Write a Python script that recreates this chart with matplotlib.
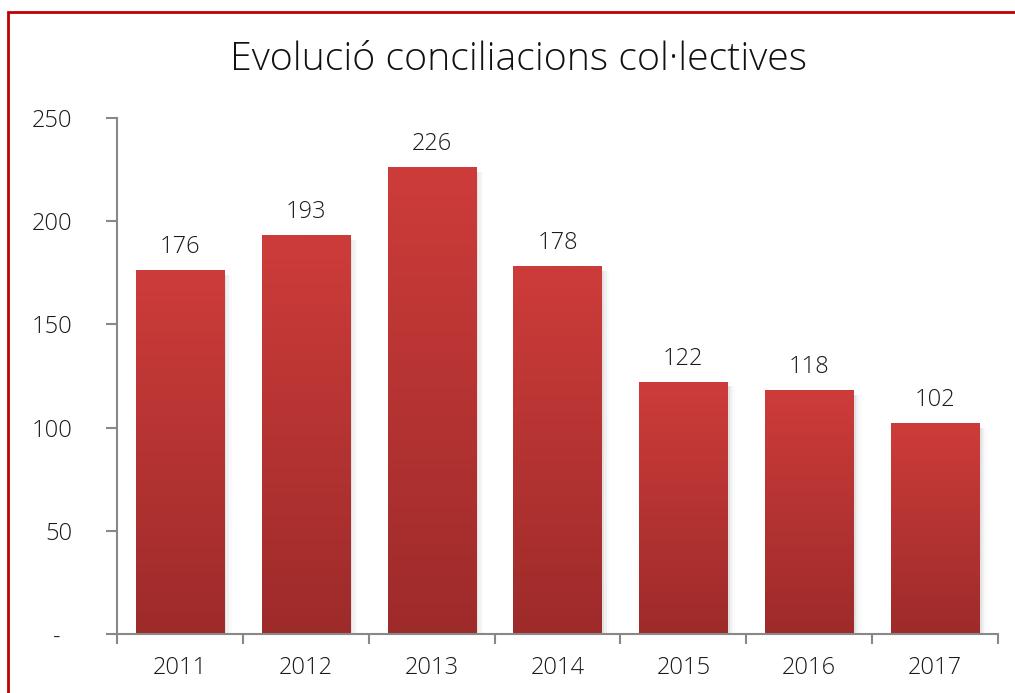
import matplotlib
matplotlib.use("Agg")
import matplotlib.pyplot as plt
import numpy as np
from matplotlib.colors import LinearSegmentedColormap
from matplotlib.patches import Rectangle

years = ["2011", "2012", "2013", "2014", "2015", "2016", "2017"]
values = [176, 193, 226, 178, 122, 118, 102]
yticks = [0, 50, 100, 150, 200, 250]
ytick_labels = ["-  ", "50", "100", "150", "200", "250"]
title = "Evolució conciliacions col·lectives"

plt.rcParams['font.family'] = ['Open Sans', 'DejaVu Sans']
FW = 300
TC = "#1a1a1a"
FS = 17

fig = plt.figure(figsize=(10.15, 6.93), dpi=100)
ax = fig.add_axes([117/1015, 1-634/693, (998-117)/1015, (634-118)/693])

cmap = LinearSegmentedColormap.from_list("g", ["#9d2b2a", "#cd3c3a"])
grad = np.linspace(0, 1, 256).reshape(-1, 1)
width = 0.7
x = np.arange(len(years))
for xi, v in zip(x, values):
    # soft shadow
    for k, a in enumerate([0.06, 0.04, 0.02]):
        ax.add_patch(Rectangle((xi - width/2 + 0.01*(k+1), -1), width + 0.01*(k+1), v - 1,
                               facecolor="black", alpha=a, lw=0, zorder=1))
    ax.imshow(grad, extent=(xi - width/2, xi + width/2, 0, v), origin="lower",
              cmap=cmap, aspect="auto", zorder=2, interpolation="bilinear")
    ax.text(xi, v + 5.5, str(v), ha="center", va="bottom", fontsize=FS,
            fontweight=FW, color=TC)

ax.set_xlim(-0.5, len(years) - 0.5)
ax.set_ylim(0, 250)
ax.set_aspect("auto")

ax.set_xticks(np.arange(len(years) + 1) - 0.5)
ax.set_xticklabels([])
ax.set_xticks(x, minor=True)
ax.set_xticklabels(years, minor=True, fontsize=FS, fontweight=FW, color=TC)
ax.tick_params(axis="x", which="major", length=7, width=1.5, color="#888888", direction="out")
ax.tick_params(axis="x", which="minor", length=0, pad=16)

ax.set_yticks(yticks)
ax.set_yticklabels(ytick_labels, fontsize=FS, fontweight=FW, color=TC)
ax.tick_params(axis="y", length=8, width=1.5, color="#888888", pad=24)

for s in ["top", "right"]:
    ax.spines[s].set_visible(False)
for s in ["left", "bottom"]:
    ax.spines[s].set_color("#888888")
    ax.spines[s].set_linewidth(1.5)

fig.text(519/1015, 1-60/693, title, ha="center", va="center", fontsize=28.3,
         fontweight=FW, color="#111111")

# outer red border
fig.patches.append(Rectangle((8/1015, -0.05), 1.1, 1 - 12/693 + 0.05, transform=fig.transFigure,
                             facecolor="none", edgecolor="#c00000", lw=2, zorder=10))

fig.savefig("out.png", dpi=100)
